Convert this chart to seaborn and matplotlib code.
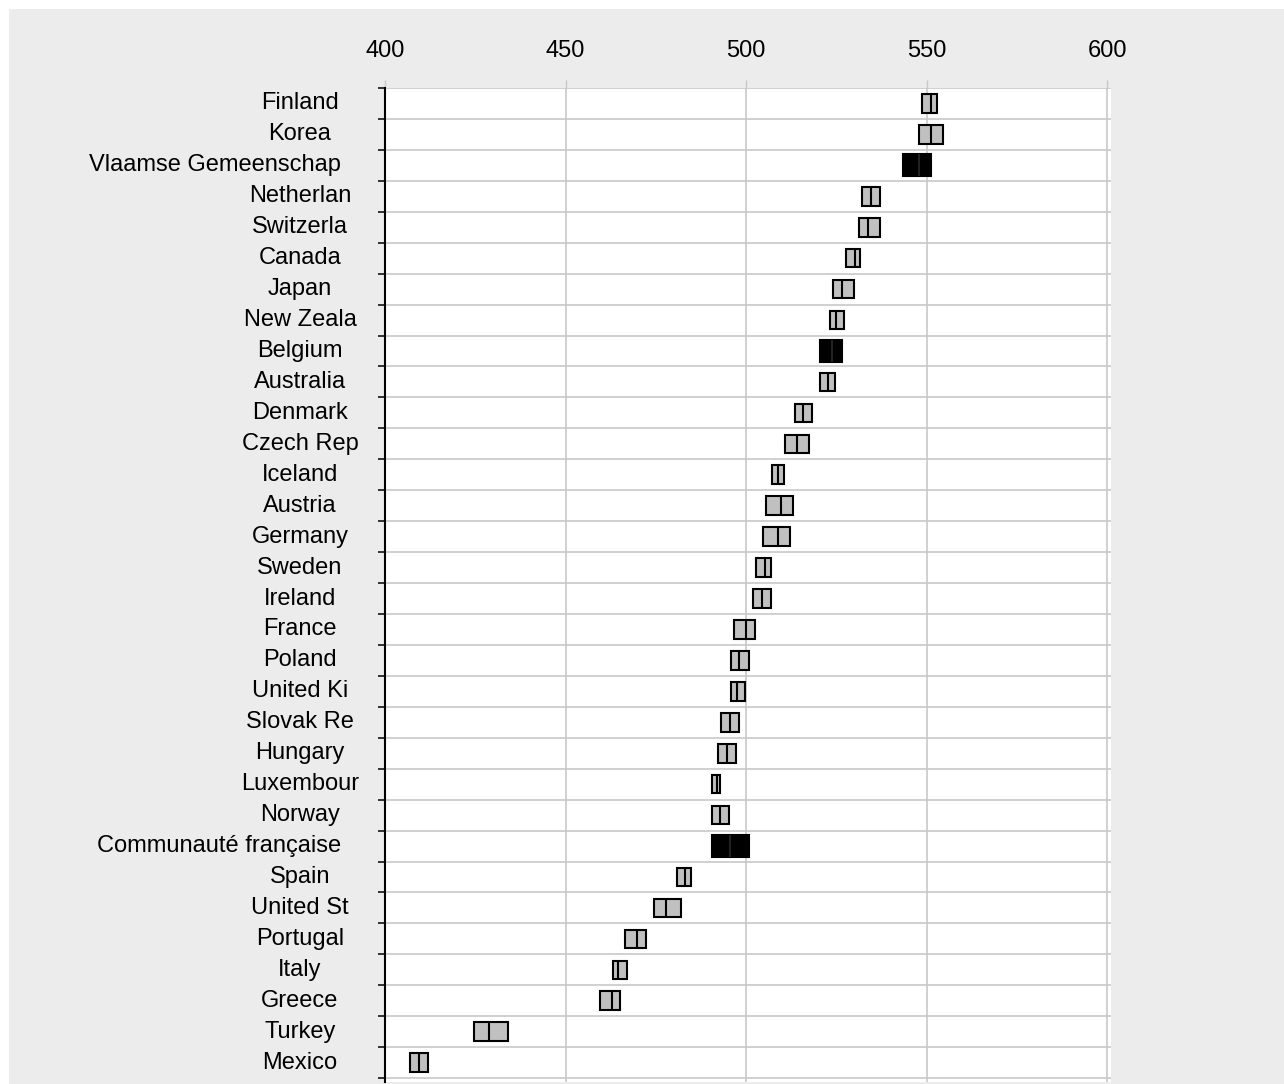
import numpy as np
import pandas as pd
import matplotlib
matplotlib.use("Agg")
import matplotlib.pyplot as plt
import seaborn as sns
from matplotlib.patches import Rectangle
from matplotlib.ticker import FixedLocator
from matplotlib.transforms import blended_transform_factory

countries = ["Finland", "Korea", "Vlaamse Gemeenschap", "Netherlan", "Switzerla", "Canada",
             "Japan", "New Zeala", "Belgium", "Australia", "Denmark", "Czech Rep", "Iceland",
             "Austria", "Germany", "Sweden", "Ireland", "France", "Poland", "United Ki",
             "Slovak Re", "Hungary", "Luxembour", "Norway", "Communauté française", "Spain",
             "United St", "Portugal", "Italy", "Greece", "Turkey", "Mexico"]
low = [548.8, 548.0, 543.5, 532.1, 531.2, 527.6, 524.1, 523.2, 520.5, 520.5, 513.5, 510.8,
       507.3, 505.5, 504.6, 502.9, 502.0, 496.6, 495.8, 495.8, 493.1, 492.2, 490.5, 490.5,
       490.5, 480.8, 474.5, 466.6, 463.1, 459.5, 424.7, 406.9]
mean = [551.2, 551.2, 547.8, 534.5, 533.8, 530.1, 526.5, 524.8, 523.9, 522.7, 515.9, 514.1,
        508.9, 509.7, 508.9, 505.3, 504.4, 499.9, 498.1, 497.4, 495.6, 494.7, 491.9, 492.8,
        495.6, 483.2, 477.8, 469.8, 464.5, 462.9, 428.9, 409.5]
high = [553.0, 554.6, 551.2, 537.0, 537.0, 531.6, 529.9, 527.2, 526.5, 524.6, 518.4, 517.5,
        510.4, 513.1, 512.2, 506.9, 506.9, 502.5, 500.7, 499.8, 498.1, 497.1, 492.8, 495.4,
        500.8, 484.7, 482.0, 472.3, 467.0, 465.2, 434.0, 411.9]
highlight = ["Vlaamse Gemeenschap", "Belgium", "Communauté française"]
xticks = [400, 450, 500, 550, 600]

df = pd.DataFrame({"country": countries, "low": low, "mean": mean, "high": high})
df["span"] = df["high"] - df["low"]
is_hl = df["country"].isin(highlight).to_numpy()

sns.set_theme(style="white")
plt.rcParams["font.family"] = ["Liberation Sans", "DejaVu Sans"]

W, H = 1284, 1084
fig = plt.figure(figsize=(W / 100, H / 100), dpi=100, facecolor="white")
fig.patches.append(Rectangle((9 / W, 0), 1, 1 - 9 / H, transform=fig.transFigure,
                             facecolor="#ececec", edgecolor="none", zorder=-10))
ax = fig.add_axes([385 / W, 2 / H, 726 / W, 994 / H])
ax.set_facecolor("white")

sns.barplot(data=df, y="country", x="span", left=df["low"].to_numpy(), orient="y",
            color="#c0c0c0", saturation=1, edgecolor="black", linewidth=1.5,
            width=0.6, errorbar=None, ax=ax, zorder=3)

for patch, hl in zip(ax.patches, is_hl):
    if hl:
        cy = patch.get_y() + patch.get_height() / 2
        patch.set_facecolor("black")
        patch.set_height(0.72)
        patch.set_y(cy - 0.36)

ypos = np.arange(len(countries))
half = np.where(is_hl, 0.36, 0.3)
ax.vlines(df["mean"], ypos - half, ypos + half, colors=np.where(is_hl, "#222222", "black"),
          linewidth=1.5, zorder=4)

ax.set_xlim(400, 601.1)
ax.set_ylim(len(countries) - 0.5 + 0.125, -0.5)
ax.set_xlabel("")
ax.set_ylabel("")

ax.xaxis.tick_top()
ax.set_xticks(xticks)
ax.set_xticklabels([str(t) for t in xticks])
ax.tick_params(axis="x", which="major", top=True, bottom=False, length=6, width=1,
               color="#c8c8c8", pad=13, labelsize=17, labelcolor="black")

ax.set_yticks([])
ax.yaxis.set_minor_locator(FixedLocator(np.arange(-0.5, len(countries), 1)))
ax.tick_params(axis="y", which="minor", left=True, length=5, width=1.1,
               color="black", direction="out")
ax.tick_params(axis="y", which="major", left=False, labelleft=False)

ax.grid(False)
ax.xaxis.grid(True, which="major", color="#c8c8c8", linewidth=1.2)
ax.yaxis.grid(True, which="minor", color="#c8c8c8", linewidth=1.2)
ax.set_axisbelow(True)

for side in ["top", "right", "bottom"]:
    ax.spines[side].set_visible(False)
ax.spines["left"].set_color("black")
ax.spines["left"].set_linewidth(1.5)
ax.spines["left"].set_zorder(5)

trans = blended_transform_factory(ax.transAxes, ax.transData)
for i, c in enumerate(countries):
    if len(c) > 12:
        ax.text(-0.0606, i, c, ha="right", va="center", transform=trans,
                fontsize=17, color="black")
    else:
        ax.text(-0.117, i, c, ha="center", va="center", transform=trans,
                fontsize=17, color="black")

fig.savefig("out.png", dpi=100, facecolor=fig.get_facecolor())
